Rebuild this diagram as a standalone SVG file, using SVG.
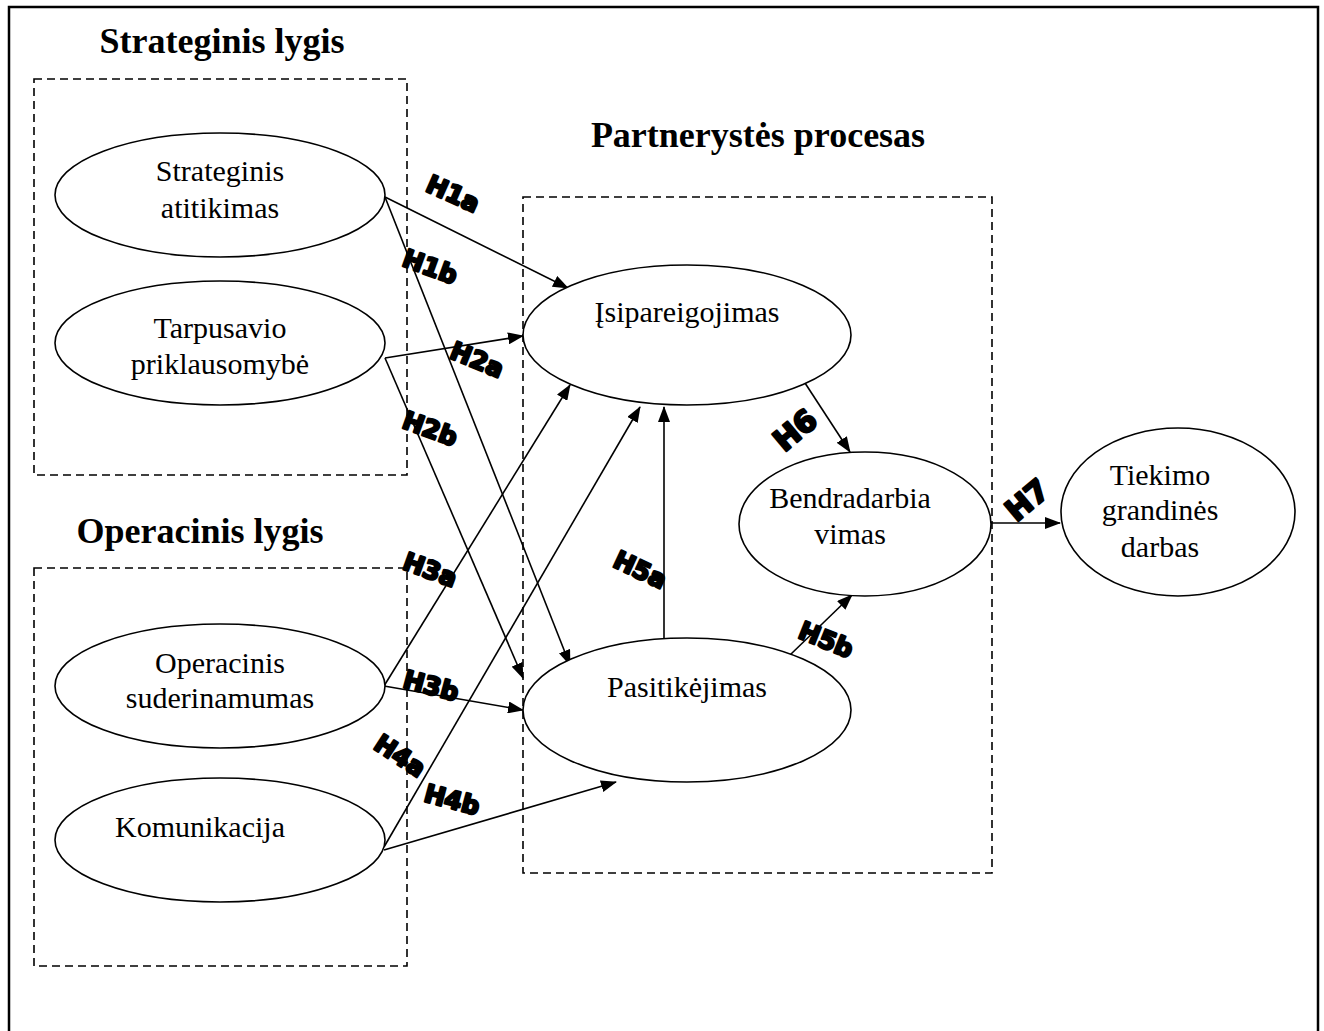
<svg xmlns="http://www.w3.org/2000/svg" width="1324" height="1031" viewBox="0 0 1324 1031">
<defs>
<style>
.frame{fill:none;stroke:#000;stroke-width:2.5}
.dash{fill:none;stroke:#000;stroke-width:1.6;stroke-dasharray:8,5}
.node{fill:#fff;stroke:#000;stroke-width:1.6}
.t{font-family:"Liberation Serif","Times New Roman",serif;font-size:30px;fill:#000;text-anchor:middle}
.title{font-family:"Liberation Serif","Times New Roman",serif;font-size:36px;font-weight:bold;fill:#000;text-anchor:middle}
.c{fill:none;stroke:#000;stroke-width:1.6}
.h{font-family:"DejaVu Sans",sans-serif;font-size:25px;font-weight:bold;fill:#000;stroke:#000;stroke-width:2.4;stroke-linejoin:round;text-anchor:middle;dominant-baseline:central}
</style>
<marker id="ah" markerWidth="16" markerHeight="12" refX="15" refY="6" orient="auto" markerUnits="userSpaceOnUse">
<path d="M0,0 L16,6 L0,12 Z" fill="#000"/>
</marker>
</defs>
<rect x="0" y="0" width="1324" height="1031" fill="#fff"/>
<rect class="frame" x="9" y="7" width="1309" height="1030"/>

<g id="groups">
<rect class="dash" x="34" y="79" width="373" height="396"/>
<rect class="dash" x="34" y="568" width="373" height="398"/>
<rect class="dash" x="523" y="197" width="469" height="676"/>
<text class="title" x="222" y="53">Strateginis lygis</text>
<text class="title" x="200" y="543">Operacinis lygis</text>
<text class="title" x="758" y="147">Partnerystės procesas</text>
</g>

<g id="connectors">
<line class="c" x1="385" y1="197" x2="568" y2="288" marker-end="url(#ah)"/>
<line class="c" x1="385" y1="197" x2="570" y2="665" marker-end="url(#ah)"/>
<line class="c" x1="385" y1="358" x2="523" y2="336" marker-end="url(#ah)"/>
<line class="c" x1="385" y1="358" x2="523" y2="678" marker-end="url(#ah)"/>
<line class="c" x1="384" y1="686" x2="570" y2="385" marker-end="url(#ah)"/>
<line class="c" x1="384" y1="686" x2="523" y2="710" marker-end="url(#ah)"/>
<line class="c" x1="384" y1="847" x2="640" y2="407" marker-end="url(#ah)"/>
<line class="c" x1="384" y1="850" x2="616" y2="782" marker-end="url(#ah)"/>
<line class="c" x1="664" y1="638" x2="664" y2="407" marker-end="url(#ah)"/>
<line class="c" x1="790" y1="655" x2="852" y2="595" marker-end="url(#ah)"/>
<line class="c" x1="805" y1="383" x2="850" y2="452" marker-end="url(#ah)"/>
<line class="c" x1="991" y1="523" x2="1060" y2="523" marker-end="url(#ah)"/>
<text class="h" transform="translate(453,194) rotate(24)">H1a</text>
<text class="h" transform="translate(430,267) rotate(20)">H1b</text>
<text class="h" transform="translate(477,360) rotate(22)">H2a</text>
<text class="h" transform="translate(430,429) rotate(20)">H2b</text>
<text class="h" transform="translate(430,570) rotate(20)">H3a</text>
<text class="h" transform="translate(431,686) rotate(15)">H3b</text>
<text class="h" transform="translate(400,756) rotate(33)">H4a</text>
<text class="h" transform="translate(452,800) rotate(15)">H4b</text>
<text class="h" transform="translate(640,570) rotate(25)">H5a</text>
<text class="h" transform="translate(826,640) rotate(22)">H5b</text>
<text class="h" transform="translate(795,430) rotate(-40)" style="font-size:30px">H6</text>
<text class="h" transform="translate(1027,500) rotate(-40)" style="font-size:30px">H7</text>
</g>

<g id="n-strateginis">
<ellipse class="node" cx="220" cy="195" rx="165" ry="62"/>
<text class="t" x="220" y="181">Strateginis</text>
<text class="t" x="220" y="218">atitikimas</text>
</g>
<g id="n-tarpusavio">
<ellipse class="node" cx="220" cy="343" rx="165" ry="62"/>
<text class="t" x="220" y="338">Tarpusavio</text>
<text class="t" x="220" y="374">priklausomybė</text>
</g>
<g id="n-operacinis">
<ellipse class="node" cx="220" cy="686" rx="165" ry="62"/>
<text class="t" x="220" y="673">Operacinis</text>
<text class="t" x="220" y="708">suderinamumas</text>
</g>
<g id="n-komunikacija">
<ellipse class="node" cx="220" cy="840" rx="165" ry="62"/>
<text class="t" x="200" y="837">Komunikacija</text>
</g>
<g id="n-isipareigojimas">
<ellipse class="node" cx="687" cy="335" rx="164" ry="70"/>
<text class="t" x="687" y="322">Įsipareigojimas</text>
</g>
<g id="n-pasitikejimas">
<ellipse class="node" cx="687" cy="710" rx="164" ry="72"/>
<text class="t" x="687" y="697">Pasitikėjimas</text>
</g>
<g id="n-bendradarbiavimas">
<ellipse class="node" cx="865" cy="524" rx="126" ry="72"/>
<text class="t" x="850" y="508">Bendradarbia</text>
<text class="t" x="850" y="544">vimas</text>
</g>
<g id="n-tiekimo">
<ellipse class="node" cx="1178" cy="512" rx="117" ry="84"/>
<text class="t" x="1160" y="485">Tiekimo</text>
<text class="t" x="1160" y="520">grandinės</text>
<text class="t" x="1160" y="557">darbas</text>
</g>
</svg>
